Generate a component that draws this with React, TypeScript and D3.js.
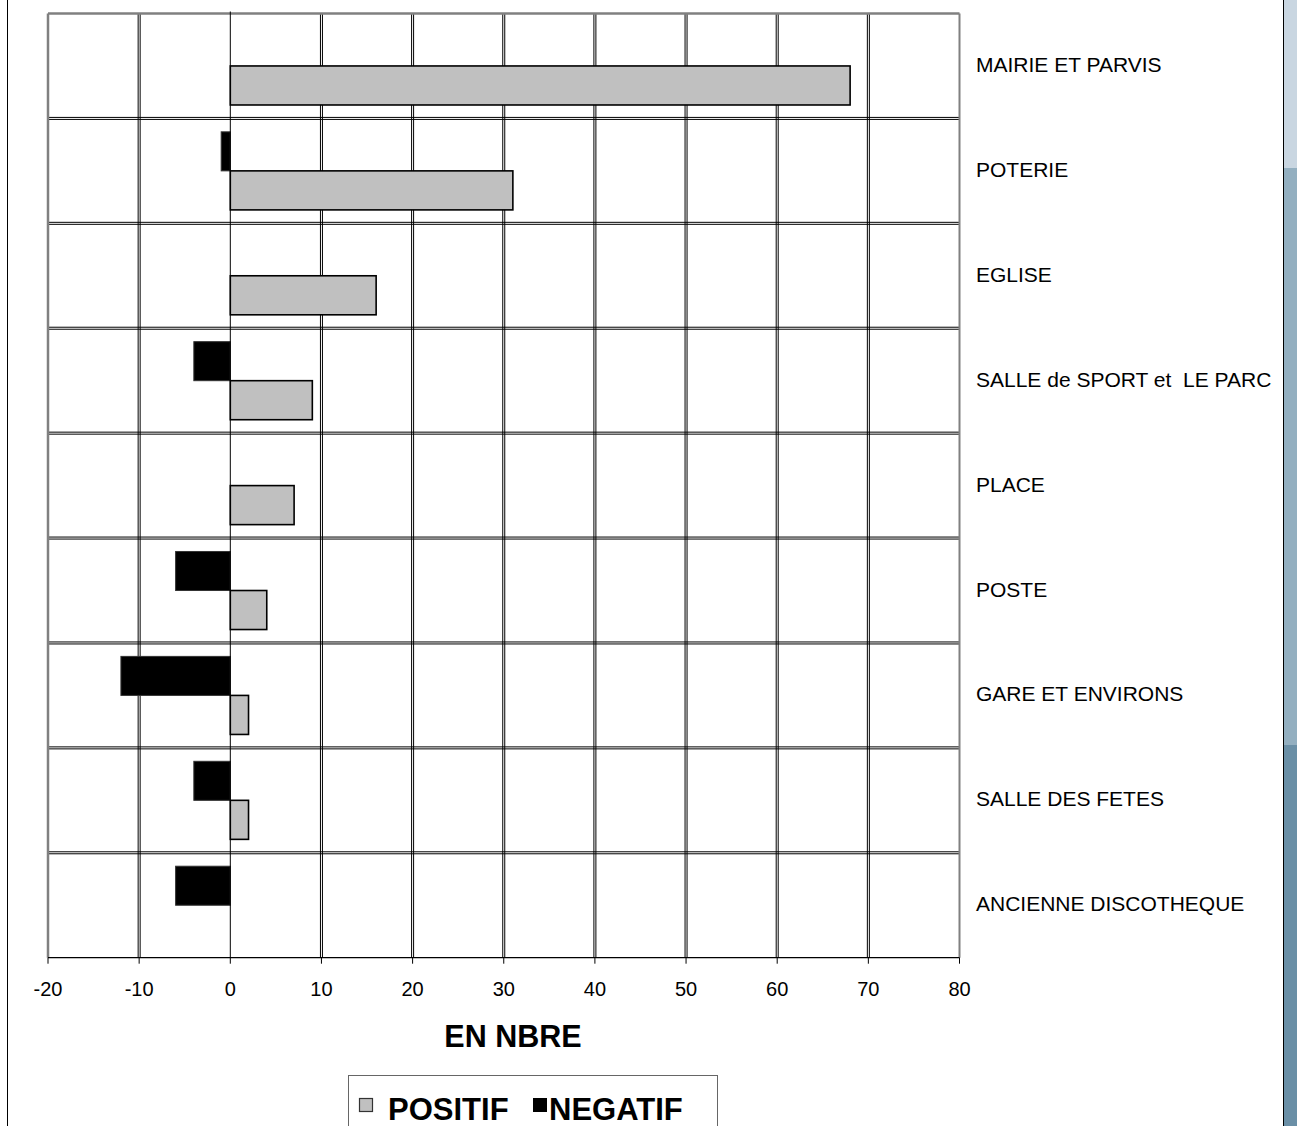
import React, { useMemo } from "react";
import * as d3 from "d3";

// data
const categories = [
  "MAIRIE ET PARVIS",
  "POTERIE",
  "EGLISE",
  "SALLE de SPORT et  LE PARC",
  "PLACE",
  "POSTE",
  "GARE ET ENVIRONS",
  "SALLE DES FETES",
  "ANCIENNE DISCOTHEQUE",
];
const positif = [68, 31, 16, 9, 7, 4, 2, 2, 0];
const negatif = [0, -1, 0, -4, 0, -6, -12, -4, -6];
const xTicks = [-20, -10, 0, 10, 20, 30, 40, 50, 60, 70, 80];

const W = 1297;
const H = 1126;
const PLOT = { left: 48, right: 959.5, top: 13.5, bottom: 957.7 };
const FONT = "'Liberation Sans', Arial, sans-serif";

export default function App() {
  const xScale = useMemo(
    () => d3.scaleLinear().domain([-20, 80]).range([PLOT.left, PLOT.right]),
    []
  );
  const yScale = useMemo(
    () =>
      d3
        .scaleBand()
        .domain(categories)
        .range([PLOT.top, PLOT.bottom])
        .paddingInner(0.256)
        .paddingOuter(0.128),
    []
  );
  const subScale = useMemo(
    () => d3.scaleBand().domain(["NEGATIF", "POSITIF"]).range([0, yScale.bandwidth()]),
    [yScale]
  );
  const step = yScale.step();
  const x0 = xScale(0);

  // row boundaries (gridlines)
  const rowLines = d3.range(1, categories.length).map((i) => PLOT.top + i * step);

  return (
    <svg
      width={W}
      height={H}
      style={{ position: "absolute", left: 0, top: 0, background: "#fff" }}
      fontFamily={FONT}
    >
      {/* page frame and right strip */}
      <line x1={7.5} x2={7.5} y1={0} y2={H} stroke="#000" strokeWidth={1} />
      <rect x={1284} y={0} width={13} height={168} fill="#c9d6e1" />
      <rect x={1284} y={168} width={13} height={577} fill="#93afc0" />
      <rect x={1284} y={745} width={13} height={H - 745} fill="#6a8fa6" />
      <line x1={1283.5} x2={1283.5} y1={0} y2={H} stroke="#000" strokeWidth={1} />

      {/* vertical gridlines */}
      {xTicks
        .filter((t) => t !== -20 && t !== 0 && t !== 80)
        .map((t) => (
          <g key={"v" + t}>
            <line x1={xScale(t) - 1} x2={xScale(t) - 1} y1={PLOT.top} y2={PLOT.bottom} stroke="#000" strokeWidth={1} />
            <line x1={xScale(t) + 1} x2={xScale(t) + 1} y1={PLOT.top} y2={PLOT.bottom} stroke="#000" strokeWidth={1} />
          </g>
        ))}
      {/* horizontal gridlines */}
      {rowLines.map((y, i) => (
        <g key={"h" + i}>
          <line x1={PLOT.left} x2={PLOT.right} y1={y - 1} y2={y - 1} stroke="#000" strokeWidth={1} />
          <line x1={PLOT.left} x2={PLOT.right} y1={y + 1} y2={y + 1} stroke="#000" strokeWidth={1} />
        </g>
      ))}

      {/* plot border */}
      <line x1={PLOT.left} x2={PLOT.left} y1={PLOT.top} y2={PLOT.bottom} stroke="#808080" strokeWidth={2.5} />
      <line x1={PLOT.left} x2={PLOT.right} y1={PLOT.top} y2={PLOT.top} stroke="#808080" strokeWidth={2.5} />
      <line x1={PLOT.right} x2={PLOT.right} y1={PLOT.top} y2={PLOT.bottom} stroke="#808080" strokeWidth={2} />

      {/* bars */}
      {categories.map((c, i) => {
        const yb = yScale(c) ?? 0;
        const pv = positif[i];
        const nv = negatif[i];
        return (
          <g key={c}>
            {nv < 0 && (
              <rect
                x={xScale(nv)}
                y={yb + (subScale("NEGATIF") ?? 0)}
                width={x0 - xScale(nv)}
                height={subScale.bandwidth()}
                fill="#000"
                stroke="#333"
                strokeWidth={1}
              />
            )}
            {pv > 0 && (
              <rect
                x={x0}
                y={yb + (subScale("POSITIF") ?? 0)}
                width={xScale(pv) - x0}
                height={subScale.bandwidth()}
                fill="#c0c0c0"
                stroke="#000"
                strokeWidth={1.6}
              />
            )}
          </g>
        );
      })}

      {/* zero line */}
      <line x1={x0} x2={x0} y1={PLOT.top - 2} y2={PLOT.bottom} stroke="#000" strokeWidth={1} />

      {/* x axis */}
      <line x1={PLOT.left} x2={PLOT.right} y1={PLOT.bottom} y2={PLOT.bottom} stroke="#000" strokeWidth={1.2} />
      {xTicks.map((t) => (
        <g key={"t" + t}>
          <line x1={xScale(t)} x2={xScale(t)} y1={PLOT.bottom} y2={PLOT.bottom + 6} stroke="#000" strokeWidth={1} />
          <text x={xScale(t)} y={996} textAnchor="middle" fontSize={20} fill="#000">
            {t}
          </text>
        </g>
      ))}

      {/* category labels */}
      {categories.map((c) => (
        <text
          key={"l" + c}
          x={976}
          y={(yScale(c) ?? 0) + yScale.bandwidth() / 2 + 6}
          fontSize={21}
          fill="#000"
          style={{ whiteSpace: "pre" }}
        >
          {c}
        </text>
      ))}

      {/* axis title */}
      <text x={513} y={1047} textAnchor="middle" fontSize={30.5} fontWeight="bold" fill="#000">
        EN NBRE
      </text>

      {/* legend */}
      <rect x={348.5} y={1075.5} width={369} height={70} fill="#fff" stroke="#666" strokeWidth={1} />
      <rect x={359.5} y={1098.5} width={13} height={13} fill="#c0c0c0" stroke="#333" strokeWidth={1.2} />
      <text x={388} y={1120} fontSize={31} fontWeight="bold" fill="#000">
        POSITIF
      </text>
      <rect x={533} y={1098} width={14} height={14} fill="#000" />
      <text x={549} y={1120} fontSize={31} fontWeight="bold" fill="#000">
        NEGATIF
      </text>
    </svg>
  );
}
